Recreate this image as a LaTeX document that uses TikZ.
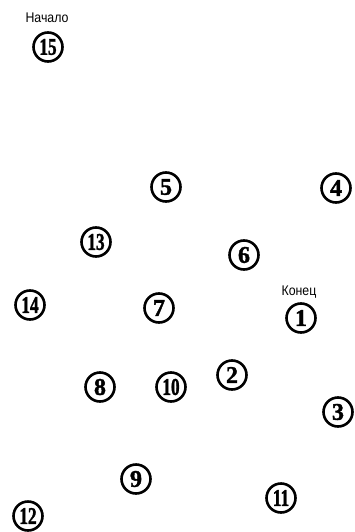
\documentclass[tikz,border=0pt]{standalone}
\usepackage{fontspec}
\setmainfont{Liberation Sans}
\newfontfamily\numfont[FakeBold=1.6]{Liberation Serif Bold}
\begin{document}
\begin{tikzpicture}[x=1pt,y=-1pt,
  pt/.style={circle,draw=black,line width=2.6pt,minimum size=29pt,inner sep=0pt,
    font=\numfont\fontsize{24}{24}\selectfont},
  lbl/.style={font=\fontsize{14}{14}\selectfont,inner sep=0pt}]
\useasboundingbox[fill=white] (0,0) rectangle (355,532);
\newcommand{\nn}[1]{\scalebox{0.72}[1]{#1}}
\newcommand{\lt}[1]{\scalebox{0.88}[1]{#1}}
\node[pt] (p15) at (48,47) {\nn{15}};
\node[pt] (p5) at (166,187) {5};
\node[pt] (p4) at (336,188) {4};
\node[pt] (p13) at (96,242) {\nn{13}};
\node[pt] (p6) at (244,255) {6};
\node[pt] (p14) at (30,305) {\nn{14}};
\node[pt] (p7) at (159,308) {7};
\node[pt] (p1) at (301,318) {1};
\node[pt] (p2) at (232,375) {2};
\node[pt] (p8) at (100,387) {8};
\node[pt] (p10) at (171,387) {\nn{10}};
\node[pt] (p3) at (338,412) {3};
\node[pt] (p9) at (136,479) {9};
\node[pt] (p11) at (281,498) {\nn{11}};
\node[pt] (p12) at (28,516) {\nn{12}};
\node[lbl] (start) at (47,18) {\lt{Начало}};
\node[lbl] (finish) at (299,292) {\lt{Конец}};
\end{tikzpicture}
\end{document}
